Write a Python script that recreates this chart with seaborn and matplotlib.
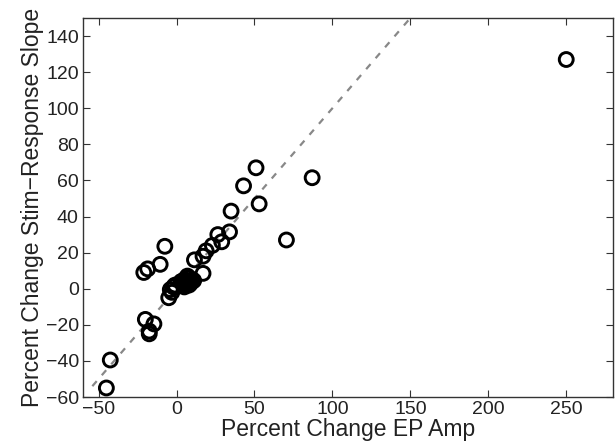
import matplotlib
matplotlib.use("Agg")
import matplotlib.pyplot as plt
import seaborn as sns
import pandas as pd

# Percent change in EP amplitude (x) and stim-response slope (y)
ep_amp = [250, 87, 70.5, 51, 53, 43, 35, 34, 26.5, 29, 23, 19, 17, 11.5, 17, 11,
          4, 5, 6, 7, 8, 9, 5, 7, 3, 6, 10, 8,
          -4, -5, -2, -1, -3,
          -7.5, -10.5, -18.5, -21, -20, -14.5, -17.5, -17.5, -42.5, -45]
slope = [127, 61.5, 27, 67, 47, 57, 43, 31.5, 30, 26, 24, 21, 18, 16, 8.5, 4.5,
         3, 5, 2, 4, 6, 3, 1, 7, 4, 4, 5, 2,
         -0.5, -5, 1, 2, -2,
         23.5, 13.5, 11, 9, -17, -19.5, -23.5, -25, -39.5, -55]
unity_line = [-54, 150]

x_ticks = [-50, 0, 50, 100, 150, 200, 250]
y_ticks = [-60, -40, -20, 0, 20, 40, 60, 80, 100, 120, 140]

sns.set_theme(style="white")
plt.rcParams['font.family'] = ['Liberation Sans', 'DejaVu Sans']

df = pd.DataFrame({"ep": ep_amp, "slope": slope})

fig = plt.figure(figsize=(6.15, 4.47), dpi=100)
ax = fig.add_axes([83/615, 1 - 397/447, (613 - 83)/615, (397 - 18)/447])

ax.plot(unity_line, unity_line, color="#888888", lw=1.6, linestyle=(0, (3, 3.5)), zorder=1)
sns.scatterplot(data=df, x="ep", y="slope", ax=ax, marker="o", s=100,
                facecolors="none", edgecolor="black", linewidth=2.1, zorder=3)

ax.set_xlim(-60, 280)
ax.set_ylim(-60, 150)
ax.set_xticks(x_ticks)
ax.set_yticks(y_ticks)
ax.set_xticklabels([str(v).replace('-', '\u2212') for v in x_ticks])
ax.set_yticklabels([str(v).replace('-', '\u2212') for v in y_ticks])
ax.tick_params(direction="in", length=5, width=0.8, colors="#333333",
               labelcolor="#222222", labelsize=14, top=True, right=True,
               bottom=True, left=True, pad=3)
for sp in ax.spines.values():
    sp.set_color("#333333")
    sp.set_linewidth(1.0)
    sp.set_visible(True)
ax.set_xlabel("Percent Change EP Amp", fontsize=16.5, color="#222222", labelpad=0)
ax.set_ylabel("Percent Change Stim\u2212Response Slope", fontsize=16.5, color="#222222", labelpad=1)

fig.savefig("out.png", dpi=100)
